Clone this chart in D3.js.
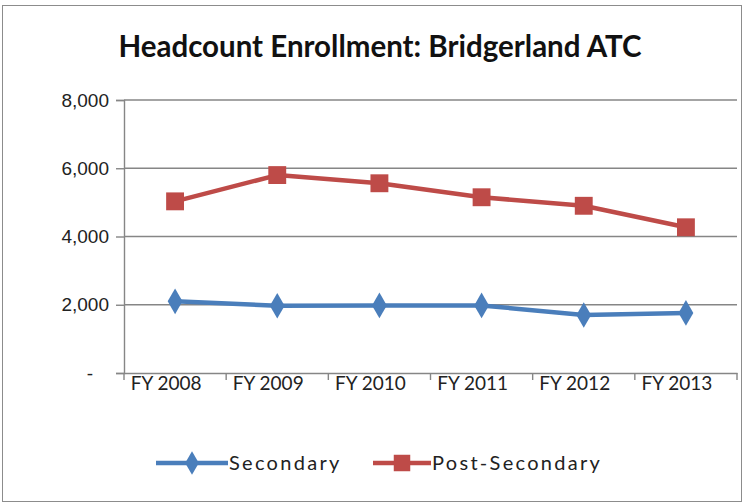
<!DOCTYPE html>
<html>
<head>
<meta charset="utf-8">
<script src="https://cdn.jsdelivr.net/npm/d3@7"></script>
<style>
  body { margin: 0; background: #fff; }
  text { font-family: Lato, "Open Sans", sans-serif; }
</style>
</head>
<body>
<svg id="chart" width="744" height="503"></svg>
<script>
// chart values
const years = ['FY 2008', 'FY 2009', 'FY 2010', 'FY 2011', 'FY 2012', 'FY 2013']
const secondary = [2100, 1970, 1980, 1980, 1700, 1760]
const postSecondary = [5030, 5800, 5560, 5150, 4900, 4270]
const yTicks = [0, 2000, 4000, 6000, 8000]

const margin = {top: 100, right: 7, bottom: 130, left: 124}
const width = 744, height = 503

const svg = d3.select('#chart')

// outer frame
svg.append('rect')
    .attr('x', 2.5).attr('y', 5.5)
    .attr('width', 739).attr('height', 496)
    .attr('fill', 'none')
    .attr('stroke', '#8c8c8c')

svg.append('text')
    .text('Headcount Enrollment: Bridgerland ATC')
    .attr('x', 380).attr('y', 57)
    .attr('text-anchor', 'middle')
    .attr('font-size', 29.5)
    .attr('font-weight', 'bold')
    .attr('fill', '#111')

const xScale = d3.scaleBand()
    .domain(years)
    .range([margin.left, width - margin.right])

const yScale = d3.scaleLinear()
    .domain([0, 8000])
    .range([height - margin.bottom, margin.top])

// gridlines
svg.append('g')
    .selectAll('line')
    .data(yTicks.filter(d => d > 0))
    .join('line')
    .attr('x1', margin.left).attr('x2', width - margin.right)
    .attr('y1', d => yScale(d)).attr('y2', d => yScale(d))
    .attr('stroke', '#868686')
    .attr('stroke-width', 1.4)

// y axis
const yAxis = d3.axisLeft(yScale)
    .tickValues(yTicks)
    .tickSize(8)
    .tickFormat(d => d === 0 ? '-' : d3.format(',')(d))
const yAxisG = svg.append('g')
    .attr('transform', `translate(${margin.left},0)`)
    .call(yAxis)
yAxisG.select('.domain').attr('stroke', '#868686').attr('stroke-width', 1.4)
yAxisG.selectAll('.tick line').attr('stroke', '#868686').attr('stroke-width', 1.4)
yAxisG.selectAll('.tick text')
    .attr('font-size', 19)
    .attr('fill', '#222')
    .attr('x', d => d === 0 ? -31 : -15)
    .style('font-family', 'Arial, "Liberation Sans", sans-serif')

// x axis with ticks between categories
const xAxis = d3.axisBottom(xScale).tickSize(0).tickPadding(3)
const xAxisG = svg.append('g')
    .attr('transform', `translate(0,${yScale(0)})`)
    .call(xAxis)
xAxisG.select('.domain').attr('stroke', '#868686').attr('stroke-width', 1.4)
xAxisG.selectAll('.tick text')
    .attr('font-size', 19)
    .attr('fill', '#222')
    .attr('dx', -9)
svg.append('g')
    .selectAll('line')
    .data(years.concat(['end']))
    .join('line')
    .attr('x1', (d, i) => margin.left + i * xScale.bandwidth())
    .attr('x2', (d, i) => margin.left + i * xScale.bandwidth())
    .attr('y1', yScale(0)).attr('y2', yScale(0) + 7)
    .attr('stroke', '#868686')
    .attr('stroke-width', 1.4)

const cx = (d, i) => xScale(years[i]) + xScale.bandwidth() / 2
const line = d3.line().x(cx).y(d => yScale(d))

const series = [
    {name: 'Secondary', values: secondary, color: '#4a7ebb', shape: d3.symbolDiamond, size: 190},
    {name: 'Post-Secondary', values: postSecondary, color: '#be4b48', shape: d3.symbolSquare, size: 320},
]

series.forEach(s => {
    svg.append('path')
        .datum(s.values)
        .attr('d', line)
        .attr('fill', 'none')
        .attr('stroke', s.color)
        .attr('stroke-width', 4.5)
        .attr('stroke-linejoin', 'round')
    svg.append('g')
        .selectAll('path')
        .data(s.values)
        .join('path')
        .attr('d', d3.symbol().type(s.shape).size(s.size))
        .attr('transform', (d, i) => `translate(${cx(d, i)},${yScale(d)})`)
        .attr('fill', s.color)
})

// legend
const legendItems = [
    {x: 156, lineW: 72, label: 'Secondary'},
    {x: 373, lineW: 58, label: 'Post-Secondary'},
]
legendItems.forEach((item, i) => {
    const s = series[i]
    const g = svg.append('g').attr('transform', `translate(${item.x},463)`)
    g.append('line')
        .attr('x1', 0).attr('x2', item.lineW)
        .attr('stroke', s.color).attr('stroke-width', 4.5)
    g.append('path')
        .attr('d', d3.symbol().type(s.shape).size(s.size * 0.85))
        .attr('transform', `translate(${item.lineW / 2},0)`)
        .attr('fill', s.color)
    g.append('text')
        .text(item.label)
        .attr('x', item.lineW + 1)
        .attr('y', 7)
        .attr('font-size', 20)
        .attr('letter-spacing', 2.3)
        .attr('fill', '#222')
})
</script>
</body>
</html>
